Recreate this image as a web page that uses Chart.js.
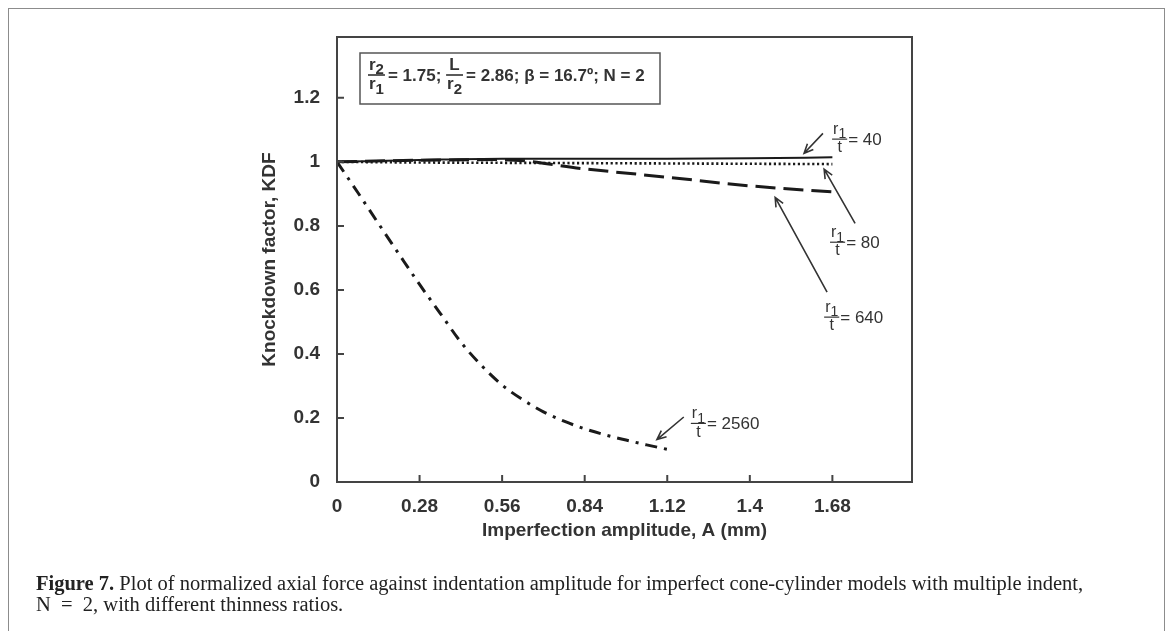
<!DOCTYPE html>
<html>
<head>
<meta charset="utf-8">
<script src="https://cdn.jsdelivr.net/npm/chart.js@4.4.1/dist/chart.umd.min.js"></script>
<style>
  html, body { margin: 0; padding: 0; background: #fff; }
  #wrap { position: relative; width: 1169px; height: 631px; overflow: hidden; }
  #frame { position: absolute; left: 8px; top: 8px; width: 1155px; height: 700px; border: 1.5px solid #8c8c8c; }
  #kdf { position: absolute; left: 0; top: 0; }
  #caption { position: absolute; left: 36px; top: 573px; font-family: "Liberation Serif", serif; font-size: 20.5px; line-height: 21px; color: #222; white-space: nowrap; }
</style>
</head>
<body>
<div id="wrap">
  <div id="frame"></div>
  <canvas id="kdf" width="1169" height="631"></canvas>
  <div id="caption"><b>Figure 7.</b> Plot of normalized axial force against indentation amplitude for imperfect cone-cylinder models with multiple indent,<br>N&nbsp;&nbsp;=&nbsp;&nbsp;2, with different thinness ratios.</div>
</div>
<script>
// values
var amplitude = [0, 0.28, 0.56, 0.84, 1.12, 1.4, 1.68];
var kdfR40 = [1.0, 1.006, 1.010, 1.010, 1.010, 1.011, 1.014];
var kdfR80 = [1.0, 0.998, 0.997, 0.996, 0.995, 0.994, 0.993];
var kdfR640 = [1.0, 1.005, 1.007, 0.978, 0.952, 0.925, 0.906];
var amplitude2560 = [0, 0.07, 0.14, 0.21, 0.28, 0.35, 0.42, 0.49, 0.56, 0.63, 0.70, 0.77, 0.84, 0.91, 0.98, 1.05, 1.12];
var kdfR2560 = [1.0, 0.905, 0.808, 0.712, 0.617, 0.527, 0.437, 0.364, 0.303, 0.257, 0.219, 0.190, 0.166, 0.147, 0.131, 0.116, 0.102];

var xTicks = [0, 0.28, 0.56, 0.84, 1.12, 1.4, 1.68];
var yTicks = [0, 0.2, 0.4, 0.6, 0.8, 1, 1.2];

// annotation labels: ratio, label anchor (x, y of fraction bar), arrow from -> to (data units)
var ratioLabels = ['40', '80', '640', '2560'];
var labelAt = [[1.679, 1.071], [1.672, 0.749], [1.652, 0.515], [1.2, 0.183]];
var arrowFrom = [[1.648, 1.089], [1.757, 0.808], [1.662, 0.593], [1.176, 0.203]];
var arrowTo = [[1.584, 1.027], [1.652, 0.977], [1.486, 0.889], [1.085, 0.1325]];

var ink = '#333';
var sans = '"Liberation Sans", Arial, sans-serif';

function toPoints(xs, ys) {
  return xs.map(function (x, i) { return { x: x, y: ys[i] }; });
}

function termWidth(ctx, term, size, weight) {
  ctx.font = weight + ' ' + size + 'px ' + sans;
  var w = ctx.measureText(term[0]).width;
  if (term[1]) {
    ctx.font = weight + ' ' + Math.round(size * 0.9) + 'px ' + sans;
    w += ctx.measureText(term[1]).width;
  }
  return w;
}

function drawTerm(ctx, term, x, base, size, weight) {
  ctx.font = weight + ' ' + size + 'px ' + sans;
  ctx.fillText(term[0], x, base);
  var w = ctx.measureText(term[0]).width;
  if (term[1]) {
    ctx.font = weight + ' ' + Math.round(size * 0.9) + 'px ' + sans;
    ctx.fillText(term[1], x + w, base + size * 0.28);
  }
}

function drawFrac(ctx, num, den, x, barY, size, weight) {
  var wn = termWidth(ctx, num, size, weight);
  var wd = termWidth(ctx, den, size, weight);
  var w = Math.max(wn, wd) + 2;
  drawTerm(ctx, num, x + (w - wn) / 2, barY - size * 0.32, size, weight);
  drawTerm(ctx, den, x + (w - wd) / 2, barY + size * 0.82, size, weight);
  ctx.beginPath();
  ctx.lineWidth = weight === 'bold' ? 1.6 : 1.2;
  ctx.moveTo(x, barY);
  ctx.lineTo(x + w, barY);
  ctx.stroke();
  return w;
}

function drawText(ctx, s, x, base, size, weight) {
  ctx.font = weight + ' ' + size + 'px ' + sans;
  ctx.fillText(s, x, base);
  return ctx.measureText(s).width;
}

function drawArrow(ctx, x1, y1, x2, y2) {
  var a = Math.atan2(y2 - y1, x2 - x1), h = 10, s = 0.42;
  ctx.beginPath();
  ctx.lineWidth = 1.6;
  ctx.moveTo(x1, y1);
  ctx.lineTo(x2, y2);
  ctx.moveTo(x2 - h * Math.cos(a - s), y2 - h * Math.sin(a - s));
  ctx.lineTo(x2, y2);
  ctx.lineTo(x2 - h * Math.cos(a + s), y2 - h * Math.sin(a + s));
  ctx.stroke();
}

var figureDecor = {
  id: 'figureDecor',
  afterDraw: function (chart) {
    var ctx = chart.ctx, area = chart.chartArea;
    var xs = chart.scales.x, ys = chart.scales.y;
    ctx.save();
    ctx.strokeStyle = '#444';
    ctx.fillStyle = ink;
    ctx.textBaseline = 'alphabetic';
    ctx.textAlign = 'left';

    // plot frame
    ctx.lineWidth = 2;
    ctx.strokeRect(area.left, area.top, area.right - area.left, area.bottom - area.top);

    // inward tick marks
    ctx.beginPath();
    xTicks.forEach(function (v) {
      var px = xs.getPixelForValue(v);
      ctx.moveTo(px, area.bottom);
      ctx.lineTo(px, area.bottom - 7);
    });
    yTicks.forEach(function (v) {
      var py = ys.getPixelForValue(v);
      ctx.moveTo(area.left, py);
      ctx.lineTo(area.left + 7, py);
    });
    ctx.stroke();

    // parameter box
    var bx = area.left + 23, by = area.top + 16;
    ctx.strokeStyle = '#555';
    ctx.lineWidth = 1.5;
    ctx.strokeRect(bx, by, 300, 51);
    ctx.strokeStyle = ink;
    var barY = by + 22, base = barY + 6, cx = bx + 8, fs = 17;
    cx += drawFrac(ctx, ['r', '2'], ['r', '1'], cx, barY, fs, 'bold') + 3;
    cx += drawText(ctx, '= 1.75; ', cx, base, fs, 'bold');
    cx += drawFrac(ctx, ['L'], ['r', '2'], cx, barY, fs, 'bold') + 3;
    drawText(ctx, '= 2.86; \u03b2 = 16.7\u00ba; N = 2', cx, base, fs, 'bold');

    // ratio annotations
    ctx.strokeStyle = ink;
    ratioLabels.forEach(function (r, i) {
      var lx = xs.getPixelForValue(labelAt[i][0]), ly = ys.getPixelForValue(labelAt[i][1]);
      var w = drawFrac(ctx, ['r', '1'], ['t'], lx, ly, 16, 'normal');
      drawText(ctx, '= ' + r, lx + w + 1, ly + 6, 17, 'normal');
      drawArrow(ctx,
        xs.getPixelForValue(arrowFrom[i][0]), ys.getPixelForValue(arrowFrom[i][1]),
        xs.getPixelForValue(arrowTo[i][0]), ys.getPixelForValue(arrowTo[i][1]));
    });
    ctx.restore();
  }
};

var tickFont = { family: sans, size: 19, weight: 'bold' };

new Chart(document.getElementById('kdf'), {
  type: 'line',
  data: {
    datasets: [
      { label: 'r1/t = 40', data: toPoints(amplitude, kdfR40), borderColor: '#1a1a1a', borderWidth: 2, cubicInterpolationMode: 'monotone' },
      { label: 'r1/t = 80', data: toPoints(amplitude, kdfR80), borderColor: '#1a1a1a', borderWidth: 2.6, borderDash: [2.2, 2.6], cubicInterpolationMode: 'monotone' },
      { label: 'r1/t = 640', data: toPoints(amplitude, kdfR640), borderColor: '#1a1a1a', borderWidth: 3, borderDash: [20, 8], cubicInterpolationMode: 'monotone' },
      { label: 'r1/t = 2560', data: toPoints(amplitude2560, kdfR2560), borderColor: '#1a1a1a', borderWidth: 3, borderDash: [12, 7, 3, 7], cubicInterpolationMode: 'monotone' }
    ]
  },
  options: {
    responsive: false,
    animation: false,
    layout: { padding: { left: 240, right: 257, top: 37, bottom: 79 } },
    elements: { point: { radius: 0 } },
    plugins: { legend: { display: false }, tooltip: { enabled: false } },
    scales: {
      x: {
        type: 'linear',
        min: 0,
        max: 1.95,
        grid: { display: false },
        border: { display: false },
        afterBuildTicks: function (s) { s.ticks = xTicks.map(function (v) { return { value: v }; }); },
        afterFit: function (s) { s.height = 70; },
        ticks: { padding: 5, color: ink, font: tickFont, maxRotation: 0, autoSkip: false, callback: function (v) { return String(v); } },
        title: { display: true, text: 'Imperfection amplitude, A (mm)', color: ink, font: tickFont, padding: { top: 0, bottom: 10 } }
      },
      y: {
        min: 0,
        max: 1.39,
        grid: { display: false },
        border: { display: false },
        afterBuildTicks: function (s) { s.ticks = yTicks.map(function (v) { return { value: v }; }); },
        afterFit: function (s) { s.width = 97; },
        ticks: { padding: 9, color: ink, font: tickFont, callback: function (v) { return String(v); } },
        title: { display: true, text: 'Knockdown factor, KDF', color: ink, font: tickFont, padding: { top: 18, bottom: 0 } }
      }
    }
  },
  plugins: [figureDecor]
});
</script>
</body>
</html>
